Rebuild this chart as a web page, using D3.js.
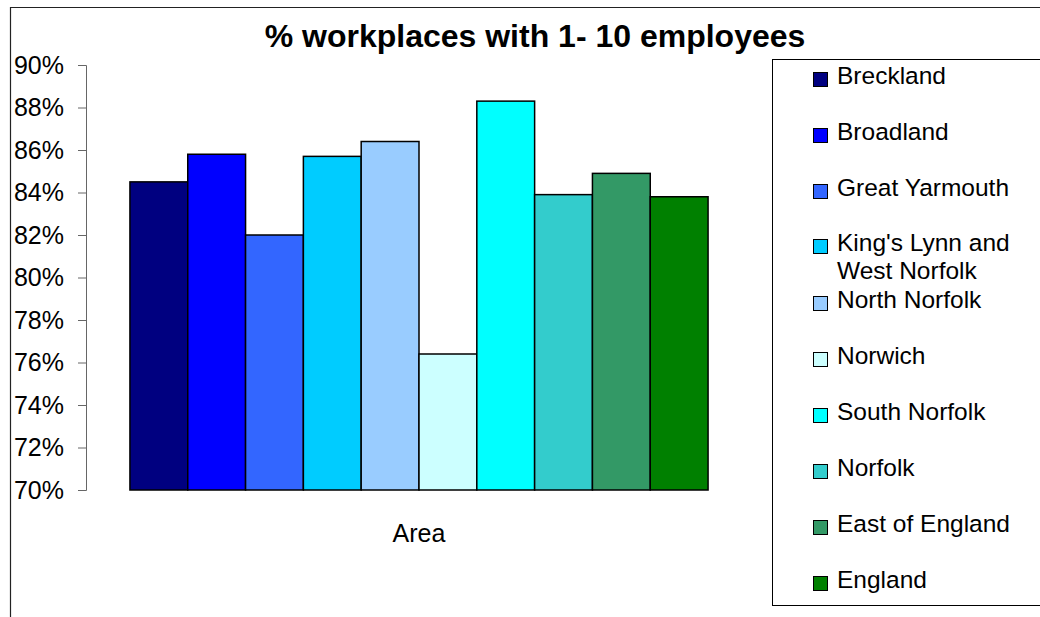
<!DOCTYPE html>
<html>
<head>
<meta charset="utf-8">
<script src="https://cdn.jsdelivr.net/npm/d3@7"></script>
<style>
  body { margin: 0; background: #fff; }
  svg { display: block; font-family: "Liberation Sans", Arial, sans-serif; }
  .axis path, .axis line { stroke: #666; }
  .axis text { fill: #000; font-size: 25px; }
</style>
</head>
<body>
<div id="chart"></div>
<script>
'use strict';

// chart data
var areas = ["Breckland", "Broadland", "Great Yarmouth", "King's Lynn and West Norfolk",
    "North Norfolk", "Norwich", "South Norfolk", "Norfolk", "East of England", "England"];
var shares = [0.845, 0.858, 0.820, 0.857, 0.864, 0.764, 0.883, 0.839, 0.849, 0.838];
var colours = ["#000080", "#0000ff", "#3366ff", "#00ccff", "#99ccff",
    "#ccffff", "#00ffff", "#33cccc", "#339966", "#008000"];
var yTicks = [0.70, 0.72, 0.74, 0.76, 0.78, 0.80, 0.82, 0.84, 0.86, 0.88, 0.90];
var categories = ["Area"];
var legendLines = [["Breckland"], ["Broadland"], ["Great Yarmouth"], ["King's Lynn and", "West Norfolk"],
    ["North Norfolk"], ["Norwich"], ["South Norfolk"], ["Norfolk"], ["East of England"], ["England"]];

var W = 1040, H = 617;
var plot = {left: 86, right: 752, top: 65, bottom: 490};

var svg = d3.select("#chart").append("svg")
    .attr("width", W)
    .attr("height", H);

// outer chart frame (only left and top edges visible)
svg.append("path")
    .attr("d", "M10.5," + H + "V7.5H" + W)
    .attr("fill", "none")
    .attr("stroke", "#222")
    .attr("stroke-width", 1.2);

svg.append("text")
    .attr("x", 535)
    .attr("y", 47)
    .attr("text-anchor", "middle")
    .style("font-size", "32px")
    .style("font-weight", "bold")
    .text("% workplaces with 1- 10 employees");

var x0 = d3.scaleBand()
    .domain(categories)
    .range([plot.left, plot.right])
    .paddingInner(0)
    .paddingOuter(0.076);

var x1 = d3.scaleBand()
    .domain(areas)
    .range([0, x0.bandwidth()])
    .padding(0);

var y = d3.scaleLinear()
    .domain([0.70, 0.90])
    .range([plot.bottom, plot.top]);

svg.append("g")
    .attr("class", "axis axis--y")
    .attr("transform", "translate(" + plot.left + ",0)")
    .call(d3.axisLeft(y).tickValues(yTicks).tickFormat(d3.format(".0%")).tickSize(8).tickSizeOuter(8).tickPadding(14));

var group = svg.append("g")
    .attr("transform", "translate(" + x0("Area") + ",0)");

group.selectAll("rect")
    .data(areas)
    .enter().append("rect")
    .attr("x", function(d) { return x1(d); })
    .attr("y", function(d, i) { return y(shares[i]); })
    .attr("width", x1.bandwidth())
    .attr("height", function(d, i) { return y(0.70) - y(shares[i]); })
    .attr("fill", function(d, i) { return colours[i]; })
    .attr("stroke", "#000")
    .attr("stroke-width", 1.5);

svg.append("text")
    .attr("x", x0("Area") + x0.bandwidth() / 2)
    .attr("y", 542)
    .attr("text-anchor", "middle")
    .style("font-size", "25px")
    .text("Area");

// legend
var legend = svg.append("g");
legend.append("rect")
    .attr("x", 772.5)
    .attr("y", 59.5)
    .attr("width", 300)
    .attr("height", 546)
    .attr("fill", "#fff")
    .attr("stroke", "#000")
    .attr("stroke-width", 1);

var item = legend.selectAll(".item")
    .data(areas)
    .enter().append("g")
    .attr("class", "item")
    .attr("transform", function(d, i) {
        // the two-line entry sits a little higher, as in the original
        return "translate(0," + (84 + i * 56 - (legendLines[i].length > 1 ? 1 : 0)) + ")";
    });

item.append("rect")
    .attr("x", 813.5)
    .attr("y", -11.5)
    .attr("width", 14)
    .attr("height", 14)
    .attr("fill", function(d, i) { return colours[i]; })
    .attr("stroke", "#000")
    .attr("stroke-width", 1);

item.append("text")
    .attr("x", 837)
    .style("font-size", "24.5px")
    .each(function(d, i) {
        var t = d3.select(this);
        legendLines[i].forEach(function(line, j) {
            t.append("tspan").attr("x", 837).attr("dy", j === 0 ? 0 : 28).text(line);
        });
    });
</script>
</body>
</html>
